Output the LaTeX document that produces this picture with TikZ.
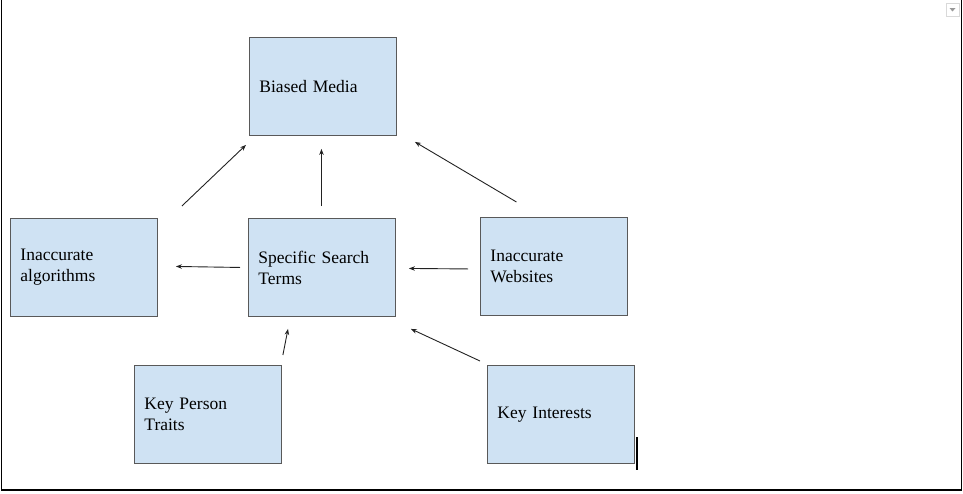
\documentclass[tikz,border=0pt]{standalone}
\usepackage{fontspec}
\setmainfont{Liberation Serif}
\usetikzlibrary{arrows.meta}
\definecolor{boxfill}{HTML}{CFE2F3}
\definecolor{boxline}{HTML}{595959}
\definecolor{arrowline}{HTML}{222222}
\begin{document}
\begin{tikzpicture}[x=1pt,y=-1pt,
  box/.style={draw=boxline, line width=0.9pt, fill=boxfill, anchor=north west,
    minimum width=147pt, minimum height=98pt, text width=127pt, inner xsep=10pt,
    inner ysep=0pt, align=left, font=\fontsize{17.5}{21}\selectfont},
  conn/.style={draw=arrowline, line width=0.9pt, -{Stealth[length=6pt,width=4.5pt]}}]
\useasboundingbox (0,0) rectangle (963,493);
% outer frame (left, bottom, right)
\draw[line width=1.5pt] (1.5,0) -- (1.5,490) -- (961.5,490) -- (961.5,0);
% small dropdown icon
\draw[draw=black!15, line width=0.8pt, fill=white] (946,3) rectangle (959,16);
\fill[black!40] (949.5,8) -- (955.5,8) -- (952.5,11.5) -- cycle;
% boxes
\node[box] (bm) at (249,37) {Biased Media};
\node[box, minimum height=98pt] (alg) at (10,218) {Inaccurate\\algorithms};
\node[box] (sst) at (248,218) {Specific Search\\Terms};
\node[box] (web) at (480,217) {Inaccurate\\Websites};
\node[box] (kpt) at (134,365) {Key Person\\Traits};
\node[box] (ki) at (487,365) {Key Interests};
% connectors
\draw[conn] ([shift={(24,-12)}]alg.north east) -- ([shift={(-3,9)}]bm.south west);
\draw[conn] ([shift={(-0.5,-12)}]sst.north) -- ([shift={(-1.5,13)}]bm.south);
\draw[conn] ([shift={(-37.5,-15)}]web.north) -- ([shift={(18,6)}]bm.south east);
\draw[conn] ([shift={(-8,0)}]sst.west) -- ([shift={(18,-1)}]alg.east);
\draw[conn] ([shift={(-12,2.5)}]web.west) -- ([shift={(13,1)}]sst.east);
\draw[conn] ([shift={(1,-10)}]kpt.north east) -- ([shift={(40,12)}]sst.south west);
\draw[conn] ([shift={(-7,-4)}]ki.north west) -- ([shift={(15,12)}]sst.south east);
% text cursor
\draw[line width=2pt] (637,437) -- (637,470);
\end{tikzpicture}
\end{document}
